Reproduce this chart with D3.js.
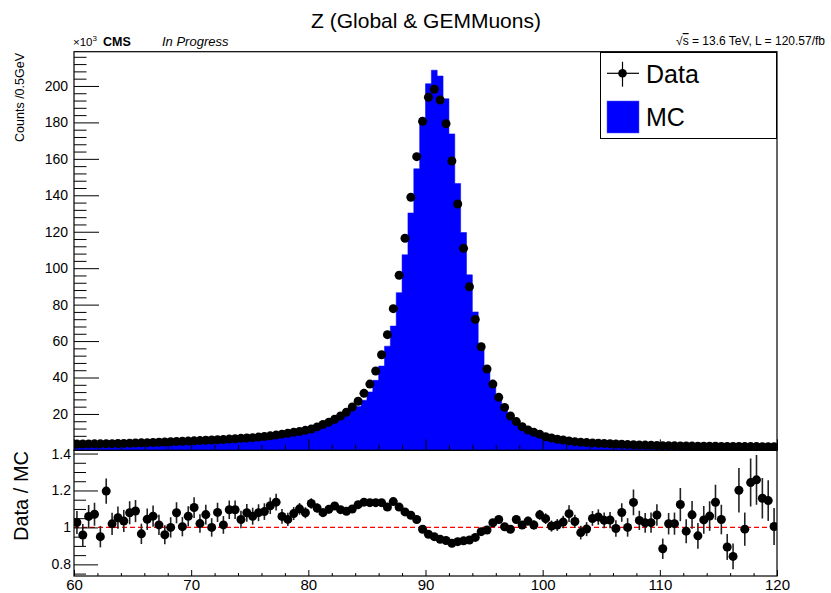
<!DOCTYPE html>
<html>
<head>
<meta charset="utf-8">
<script src="https://cdn.jsdelivr.net/npm/d3@7"></script>
<style>
  html, body { margin: 0; padding: 0; background: #fff; }
  svg { display: block; font-family: "Liberation Sans", Arial, Helvetica, sans-serif; }
</style>
</head>
<body>
<svg id="chart" width="831" height="593"></svg>
<script>
// ---- Data (counts in units of 10^3 per 0.5 GeV bin, 60..120 GeV) ----
const binLow = 60, binWidth = 0.5, nBins = 120;

const dataCounts = [
  3.5, 3.5, 3.55, 3.6, 3.6, 3.65, 3.7, 3.8, 3.85, 3.95,
  4.05, 4.15, 4.25, 4.35, 4.5, 4.6, 4.75, 4.9, 5.0, 5.1,
  5.25, 5.4, 5.55, 5.7, 5.85, 6.0, 6.2, 6.4, 6.6, 6.8,
  7.0, 7.3, 7.6, 8.0, 8.4, 8.9, 9.4, 9.9, 10.4, 11.0,
  11.7, 12.9, 14.2, 15.5, 17.1, 18.9, 21.0, 23.8, 27.0, 31.3,
  36.4, 43.6, 52.5, 63.5, 77.8, 96.1, 116.4, 138.9, 161.2, 180.6,
  193.8, 198.2, 192.3, 179.3, 158.8, 135.2, 110.9, 89.8, 71.9, 56.9,
  44.7, 36.4, 29.1, 23.6, 18.9, 15.8, 13.0, 11.2, 9.9, 8.8,
  7.5, 6.8, 6.1, 5.7, 5.2, 4.8, 4.5, 4.3, 4.1, 3.95,
  3.8, 3.65, 3.5, 3.35, 3.2, 3.1, 3.0, 2.9, 2.8, 2.7,
  2.6, 2.55, 2.5, 2.45, 2.4, 2.35, 2.3, 2.3, 2.25, 2.25,
  2.2, 2.2, 2.15, 2.15, 2.1, 2.1, 2.1, 2.05, 2.05, 2.0
];

const mcCounts = [
  3.41, 3.65, 3.35, 3.36, 3.79, 3.05, 3.63, 3.61, 3.72, 3.66,
  3.72, 4.30, 4.07, 4.10, 4.44, 4.79, 4.75, 4.54, 4.98, 4.81,
  4.74, 5.29, 5.19, 5.70, 5.41, 5.92, 5.66, 5.84, 6.33, 6.30,
  6.60, 6.76, 7.00, 7.16, 7.39, 8.40, 9.01, 9.21, 9.45, 10.19,
  10.36, 11.67, 13.15, 14.12, 15.32, 17.24, 19.32, 21.64, 24.04, 27.53,
  32.10, 38.45, 46.30, 57.21, 68.25, 86.58, 107.38, 130.30, 154.55, 182.42,
  201.25, 208.63, 205.45, 193.0, 173.7, 146.5, 119.6, 96.35, 76.0, 58.24,
  45.33, 35.51, 27.90, 23.51, 19.09, 15.15, 12.83, 10.83, 9.77, 8.24,
  7.16, 6.75, 6.02, 5.54, 4.84, 4.65, 4.63, 4.34, 3.91, 3.74,
  3.66, 3.51, 3.52, 3.10, 3.20, 2.73, 2.89, 2.83, 2.73, 2.53,
  2.94, 2.50, 2.45, 2.18, 2.45, 2.20, 2.41, 2.21, 2.12, 1.98,
  2.11, 2.46, 2.55, 1.79, 2.12, 1.69, 1.67, 1.77, 1.79, 1.99
];

// uncertainty on Data/MC per bin
const ratioErr = [
  0.062, 0.06, 0.062, 0.062, 0.058, 0.068, 0.06, 0.06, 0.06, 0.062,
  0.06, 0.055, 0.058, 0.058, 0.055, 0.052, 0.055, 0.057, 0.052, 0.055,
  0.056, 0.05, 0.053, 0.05, 0.052, 0.048, 0.05, 0.05, 0.047, 0.048,
  0.046, 0.046, 0.045, 0.045, 0.045, 0.04, 0.036, 0.035, 0.032, 0.03,
  0.028, 0.026, 0.024, 0.022, 0.02, 0.019, 0.018, 0.016, 0.015, 0.014,
  0.013, 0.012, 0.011, 0.01, 0.009, 0.008, 0.007, 0.007, 0.006, 0.006,
  0.006, 0.006, 0.006, 0.006, 0.006, 0.007, 0.007, 0.008, 0.009, 0.01,
  0.011, 0.012, 0.014, 0.016, 0.018, 0.02, 0.022, 0.024, 0.025, 0.027,
  0.029, 0.03, 0.032, 0.034, 0.045, 0.036, 0.037, 0.038, 0.04, 0.042,
  0.043, 0.044, 0.045, 0.05, 0.05, 0.07, 0.052, 0.054, 0.055, 0.058,
  0.055, 0.058, 0.06, 0.09, 0.065, 0.075, 0.07, 0.075, 0.08, 0.095,
  0.08, 0.07, 0.07, 0.12, 0.09, 0.13, 0.135, 0.11, 0.11, 0.1
];

const mainYMajor = [20, 40, 60, 80, 100, 120, 140, 160, 180, 200];
const ratioYMajor = [0.8, 1.0, 1.2, 1.4];
const xMajor = [60, 70, 80, 90, 100, 110, 120];

const titleText = "Z (Global & GEMMuons)";
const yTitleMain = "Counts /0.5GeV";
const yTitleRatio = "Data / MC";

// ---- Layout ----
const L = 74, R = 777;
const mainTop = 51.7, mainBot = 450.4;
const ratTop = 450.4, ratBot = 576;

const bins = d3.range(nBins).map(i => ({
  lo: binLow + i * binWidth,
  hi: binLow + (i + 1) * binWidth,
  c: binLow + (i + 0.5) * binWidth,
  mc: mcCounts[i],
  data: dataCounts[i],
  ratio: dataCounts[i] / mcCounts[i],
  rerr: ratioErr[i]
}));

const x = d3.scaleLinear().domain([60, 120]).range([L, R]);
const yM = d3.scaleLinear().domain([0, 218.8]).range([mainBot, mainTop]);
const yR = d3.scaleLinear().domain([0.737, 1.417]).range([ratBot, ratTop]);

const svg = d3.select("#chart");
const defs = svg.append("defs");
defs.append("clipPath").attr("id", "clipMain").append("rect")
  .attr("x", L).attr("y", mainTop).attr("width", R - L).attr("height", mainBot - mainTop);
defs.append("clipPath").attr("id", "clipRatio").append("rect")
  .attr("x", L).attr("y", ratTop).attr("width", R - L).attr("height", ratBot - ratTop);

svg.append("rect").attr("width", 831).attr("height", 593).attr("fill", "#fff");

// ---- Main pad ----
const gMain = svg.append("g").attr("clip-path", "url(#clipMain)");
const histPts = bins.map(b => [b.lo, b.mc]).concat([[120, bins[nBins - 1].mc]]);
gMain.append("path")
  .datum(histPts)
  .attr("d", d3.area().curve(d3.curveStepAfter)
    .x(d => x(d[0])).y0(yM(0)).y1(d => yM(d[1])))
  .attr("fill", "#0000ff").attr("stroke", "#0000ff").attr("stroke-width", 0.5);

const pts = gMain.append("g");
pts.selectAll("line.h").data(bins).join("line")
  .attr("x1", d => x(d.lo)).attr("x2", d => x(d.hi))
  .attr("y1", d => yM(d.data)).attr("y2", d => yM(d.data))
  .attr("stroke", "#000").attr("stroke-width", 1);
pts.selectAll("line.v").data(bins).join("line")
  .attr("x1", d => x(d.c)).attr("x2", d => x(d.c))
  .attr("y1", d => yM(d.data * (1 + d.rerr * 0.25))).attr("y2", d => yM(d.data * (1 - d.rerr * 0.25)))
  .attr("stroke", "#000").attr("stroke-width", 1);
pts.selectAll("circle").data(bins).join("circle")
  .attr("cx", d => x(d.c)).attr("cy", d => yM(d.data)).attr("r", 4.5)
  .attr("fill", "#000");

// main axes
const styleAxis = g => {
  g.select(".domain").remove();
  g.selectAll(".tick line").attr("stroke", "#000").attr("stroke-width", 1);
  g.selectAll(".tick text").attr("fill", "#000");
};
const mainYMinor = d3.range(0, 218, 4).filter(v => v % 20 !== 0);
svg.append("g").attr("transform", `translate(${L},0)`)
  .call(d3.axisLeft(yM).tickValues(mainYMajor).tickSizeInner(-25).tickSizeOuter(0).tickPadding(6))
  .call(styleAxis)
  .call(g => g.selectAll(".tick text").attr("font-size", 14).attr("font-family", "Liberation Sans, Arial, sans-serif"));
svg.append("g").attr("transform", `translate(${L},0)`)
  .call(d3.axisLeft(yM).tickValues(mainYMinor).tickSizeInner(-12.5).tickSizeOuter(0).tickFormat(""))
  .call(styleAxis);
const xMinor = d3.range(60, 121, 2).filter(v => v % 10 !== 0);
svg.append("g").attr("transform", `translate(0,${mainBot})`)
  .call(d3.axisBottom(x).tickValues(xMajor).tickSizeInner(-11).tickSizeOuter(0).tickFormat(""))
  .call(styleAxis);
svg.append("g").attr("transform", `translate(0,${mainBot})`)
  .call(d3.axisBottom(x).tickValues(xMinor).tickSizeInner(-5.5).tickSizeOuter(0).tickFormat(""))
  .call(styleAxis);

// ---- Ratio pad ----
svg.append("rect").attr("x", 0).attr("y", ratTop + 0.5).attr("width", 831).attr("height", 593 - ratTop)
  .attr("fill", "#fff");
const gRat = svg.append("g").attr("clip-path", "url(#clipRatio)");
gRat.append("line")
  .attr("x1", x(60)).attr("x2", x(120)).attr("y1", yR(1)).attr("y2", yR(1))
  .attr("stroke", "#ff0000").attr("stroke-width", 1.2).attr("stroke-dasharray", "5,3");
gRat.selectAll("line.e").data(bins).join("line")
  .attr("x1", d => x(d.c)).attr("x2", d => x(d.c))
  .attr("y1", d => yR(d.ratio - d.rerr)).attr("y2", d => yR(d.ratio + d.rerr))
  .attr("stroke", "#222").attr("stroke-width", 1.6);
gRat.selectAll("circle").data(bins).join("circle")
  .attr("cx", d => x(d.c)).attr("cy", d => yR(d.ratio)).attr("r", 4.5)
  .attr("fill", "#000");

const ratioYMinor = d3.range(0.75, 1.4, 0.05).map(v => +v.toFixed(2)).filter(v => Math.abs(v * 10 - Math.round(v * 10)) > 1e-6 || Math.round(v * 10) % 2 !== 0);
svg.append("g").attr("transform", `translate(${L},0)`)
  .call(d3.axisLeft(yR).tickValues(ratioYMajor).tickSizeInner(-24).tickSizeOuter(0).tickPadding(3)
    .tickFormat(d => String(+d.toFixed(1))))
  .call(styleAxis)
  .call(g => g.selectAll(".tick text").attr("font-size", 14));
svg.append("g").attr("transform", `translate(${L},0)`)
  .call(d3.axisLeft(yR).tickValues(ratioYMinor).tickSizeInner(-12).tickSizeOuter(0).tickFormat(""))
  .call(styleAxis);
svg.append("g").attr("transform", `translate(0,${ratBot})`)
  .call(d3.axisBottom(x).tickValues(xMajor).tickSizeInner(-6).tickSizeOuter(0).tickPadding(3))
  .call(styleAxis)
  .call(g => g.selectAll(".tick text").attr("font-size", 15));
svg.append("g").attr("transform", `translate(0,${ratBot})`)
  .call(d3.axisBottom(x).tickValues(xMinor).tickSizeInner(-3).tickSizeOuter(0).tickFormat(""))
  .call(styleAxis);

// frames
svg.append("rect").attr("x", L).attr("y", mainTop).attr("width", R - L).attr("height", mainBot - mainTop)
  .attr("fill", "none").attr("stroke", "#000").attr("stroke-width", 1.2);
svg.append("rect").attr("x", L).attr("y", ratTop).attr("width", R - L).attr("height", ratBot - ratTop)
  .attr("fill", "none").attr("stroke", "#000").attr("stroke-width", 1.2);

// ---- Texts ----
svg.append("text").attr("x", 426).attr("y", 28).attr("text-anchor", "middle")
  .attr("font-size", 21).text(titleText);
const t10 = svg.append("text").attr("x", 73).attr("y", 46).attr("font-size", 11.5);
t10.append("tspan").text("\u00d710");
t10.append("tspan").attr("dy", -5).attr("font-size", 8).text("3");
svg.append("text").attr("x", 103).attr("y", 46).attr("font-size", 12.5).attr("font-weight", "bold").text("CMS");
svg.append("text").attr("x", 162).attr("y", 46).attr("font-size", 13).attr("font-style", "italic").text("In Progress");
const ts = svg.append("text").attr("x", 825).attr("y", 45).attr("text-anchor", "end").attr("font-size", 12);
ts.append("tspan").text("\u221a");
ts.append("tspan").attr("text-decoration", "overline").text("s");
ts.append("tspan").text(" = 13.6 TeV, L = 120.57/fb");

svg.append("text").attr("transform", "translate(24,53) rotate(-90)").attr("text-anchor", "end")
  .attr("font-size", 12.5).text(yTitleMain);
svg.append("text").attr("transform", "translate(28,451) rotate(-90)").attr("text-anchor", "end")
  .attr("font-size", 20).text(yTitleRatio);

// ---- Legend ----
const lg = svg.append("g");
lg.append("rect").attr("x", 600.5).attr("y", 52.5).attr("width", 176).attr("height", 86)
  .attr("fill", "#fff").attr("stroke", "#000").attr("stroke-width", 1);
lg.append("line").attr("x1", 607).attr("x2", 639).attr("y1", 73.3).attr("y2", 73.3).attr("stroke", "#000").attr("stroke-width", 1.2);
lg.append("line").attr("x1", 622.5).attr("x2", 622.5).attr("y1", 61.7).attr("y2", 86.7).attr("stroke", "#000").attr("stroke-width", 1.2);
lg.append("circle").attr("cx", 622.5).attr("cy", 73.3).attr("r", 4.3).attr("fill", "#000");
lg.append("text").attr("x", 646).attr("y", 83).attr("font-size", 25).text("Data");
lg.append("rect").attr("x", 607).attr("y", 101).attr("width", 32).attr("height", 32)
  .attr("fill", "#0000ff").attr("stroke", "#5555ff").attr("stroke-width", 0.5);
lg.append("text").attr("x", 646).attr("y", 125.5).attr("font-size", 25).text("MC");
</script>
</body>
</html>
